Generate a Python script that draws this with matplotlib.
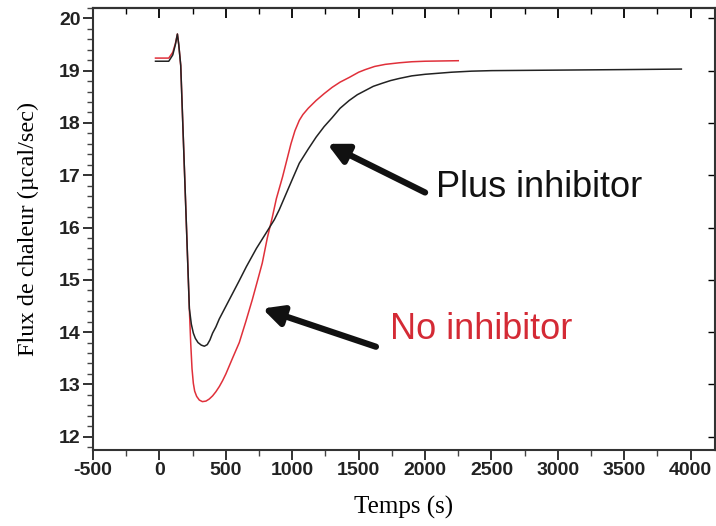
import matplotlib
matplotlib.use("Agg")
import matplotlib.pyplot as plt
from matplotlib.ticker import MultipleLocator

plt.rcParams["axes.unicode_minus"] = False

# Data
time_plus = [-30, 70, 100, 120, 135, 145, 160, 195, 225, 240, 255, 270, 290,
             315, 338, 360, 380, 400, 425, 450, 526, 600, 654, 730, 804, 865,
             902, 1000, 1053, 1120, 1180, 1240, 1300, 1360, 1429, 1490, 1550,
             1610, 1679, 1740, 1805, 1900, 2000, 2100, 2200, 2350, 2500, 3000,
             3500, 3930]
flux_plus = [19.18, 19.18, 19.3, 19.5, 19.7, 19.5, 19.1, 16.6, 14.45, 14.15,
             13.98, 13.88, 13.8, 13.75, 13.73, 13.76, 13.85, 13.98, 14.1,
             14.25, 14.62, 14.98, 15.25, 15.6, 15.9, 16.15, 16.34, 16.92,
             17.23, 17.5, 17.73, 17.93, 18.1, 18.28, 18.43, 18.54, 18.62,
             18.7, 18.76, 18.81, 18.85, 18.9, 18.93, 18.95, 18.97, 18.99,
             19.0, 19.01, 19.02, 19.03]

time_no = [-30, 70, 100, 120, 135, 145, 160, 195, 225, 235, 245, 255, 265,
           280, 300, 323, 350, 375, 400, 425, 451, 475, 500, 550, 601, 650,
           699, 740, 774, 812, 850, 880, 927, 960, 990, 1020, 1053, 1080,
           1120, 1180, 1240, 1300, 1360, 1429, 1500, 1550, 1620, 1700, 1805,
           1900, 2000, 2250]
flux_no = [19.24, 19.24, 19.35, 19.52, 19.7, 19.5, 19.1, 16.6, 14.45, 13.8,
           13.3, 13.02, 12.87, 12.77, 12.7, 12.67, 12.68, 12.72, 12.78, 12.86,
           12.96, 13.07, 13.2, 13.5, 13.8, 14.2, 14.62, 15.0, 15.32, 15.8,
           16.2, 16.55, 16.97, 17.3, 17.6, 17.85, 18.05, 18.16, 18.28, 18.43,
           18.56, 18.68, 18.78, 18.87, 18.97, 19.02, 19.08, 19.12, 19.15,
           19.17, 19.18, 19.19]

fig = plt.figure(figsize=(7.16, 5.26), dpi=100)
ax = fig.add_axes([0.130, 0.145, 0.868, 0.840])

ax.plot(time_no, flux_no, color="#e0303a", lw=1.1)
ax.plot(time_plus, flux_plus, color="#222222", lw=1.1)

ax.set_xlim(-500, 4180)
ax.set_ylim(11.75, 20.2)

ax.xaxis.set_major_locator(MultipleLocator(500))
ax.xaxis.set_minor_locator(MultipleLocator(250))
ax.yaxis.set_major_locator(MultipleLocator(1))
ax.yaxis.set_minor_locator(MultipleLocator(0.2))

ax.tick_params(which="major", direction="out", length=7, width=1.3,
               labelsize=14, colors="#222222", pad=2)
ax.tick_params(which="minor", direction="out", length=4, width=1.0,
               colors="#444444")
for lab in ax.get_xticklabels() + ax.get_yticklabels():
    lab.set_fontweight("bold")
    lab.set_family("Liberation Sans")

# inward ticks on top and right
top = ax.secondary_xaxis("top")
top.xaxis.set_major_locator(MultipleLocator(500))
top.xaxis.set_minor_locator(MultipleLocator(250))
top.tick_params(which="major", direction="in", length=7, width=1.3, labeltop=False)
top.tick_params(which="minor", direction="in", length=4, width=1.0, labeltop=False)
right = ax.secondary_yaxis("right")
right.yaxis.set_major_locator(MultipleLocator(1))
right.yaxis.set_minor_locator(MultipleLocator(0.2))
right.tick_params(which="major", direction="in", length=5, width=1.0, labelright=False)
right.tick_params(which="minor", direction="in", length=0, labelright=False)

for s in ax.spines.values():
    s.set_linewidth(1.5)
    s.set_color("#333333")
top.spines["top"].set_linewidth(1.5)
right.spines["right"].set_linewidth(1.0)
right.spines["right"].set_color("#999999")

ax.set_xlabel("Temps (s)", family="Liberation Serif", fontsize=18, labelpad=12)
ax.set_ylabel("Flux de chaleur (µcal/sec)", family="Liberation Serif",
              fontsize=17.5, labelpad=14)

# annotations
ax.annotate("", xy=(1263, 17.6), xytext=(2000, 16.67),
            arrowprops=dict(arrowstyle="-|>,head_length=1.2,head_width=0.6",
                            lw=4.5, color="#111111", shrinkA=0, shrinkB=0))
ax.text(2083, 16.77, "Plus inhibitor", fontsize=26, family="Liberation Sans",
        color="#111111", va="center", ha="left")

ax.annotate("", xy=(774, 14.45), xytext=(1630, 13.72),
            arrowprops=dict(arrowstyle="-|>,head_length=1.2,head_width=0.6",
                            lw=4.5, color="#111111", shrinkA=0, shrinkB=0))
ax.text(1737, 14.05, "No inhibitor", fontsize=26, family="Liberation Sans",
        color="#d42a35", va="center", ha="left")

fig.savefig("out.png", dpi=100)
